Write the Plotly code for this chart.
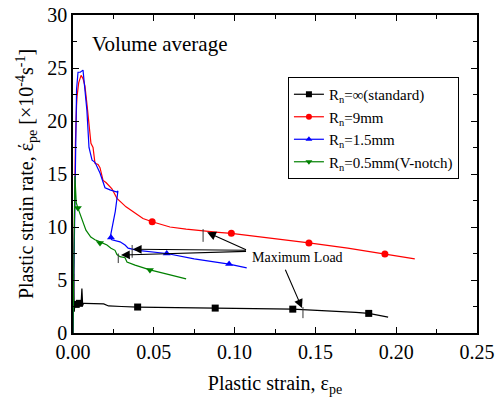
import plotly.graph_objects as go

# ---- data ----
std_x = [0, 0.0004, 0.0008, 0.0012, 0.0018, 0.0025, 0.003, 0.004, 0.005, 0.0055, 0.006, 0.0065, 0.007, 0.01, 0.019, 0.022, 0.025, 0.03, 0.04, 0.06, 0.088, 0.11, 0.136, 0.142, 0.16, 0.175, 0.183, 0.19, 0.195]
std_y = [0, 5.6, 2.0, 2.9, 2.5, 2.85, 2.6, 2.8, 2.7, 4.2, 2.6, 2.8, 2.8, 2.8, 2.75, 2.55, 2.55, 2.5, 2.45, 2.42, 2.35, 2.3, 2.25, 2.2, 2.1, 1.95, 1.85, 1.65, 1.5]
std_mx = [0.002, 0.004, 0.04, 0.088, 0.136, 0.183]
std_my = [2.7, 2.8, 2.45, 2.35, 2.25, 1.85]

r9_x = [0, 0.0008, 0.0015, 0.0022, 0.0025, 0.0035, 0.005, 0.0062, 0.0074, 0.0087, 0.0099, 0.0111, 0.0124, 0.0136, 0.0155, 0.0167, 0.0186, 0.0204, 0.0241, 0.0266, 0.0272, 0.0328, 0.0433, 0.049, 0.06, 0.07, 0.081, 0.09, 0.098, 0.12, 0.146, 0.17, 0.193, 0.2115]
r9_y = [0, 10, 18, 21.5, 22.3, 23.6, 24.3, 24.0, 23.3, 21.5, 19.4, 17.9, 17.5, 16.0, 15.9, 15.6, 14.4, 14.2, 13.6, 12.9, 12.7, 11.9, 10.8, 10.5, 10.0, 9.8, 9.6, 9.5, 9.4, 9.0, 8.5, 8.0, 7.45, 7.0]
r9_mx = [0.049, 0.098, 0.146, 0.193]
r9_my = [10.5, 9.4, 8.5, 7.45]

r15_x = [0, 0.0008, 0.0015, 0.0022, 0.0031, 0.0045, 0.0062, 0.0074, 0.0086, 0.0099, 0.0118, 0.0136, 0.0167, 0.0198, 0.0229, 0.0272, 0.0278, 0.0262, 0.0248, 0.0236, 0.0230, 0.0240, 0.0291, 0.0322, 0.0341, 0.040, 0.045, 0.058, 0.075, 0.0966, 0.1075]
r15_y = [0, 8, 18, 23.0, 24.6, 24.6, 24.8, 23.2, 21.0, 17.5, 16.3, 16.1, 15.1, 13.7, 13.5, 13.3, 13.4, 11.5, 10.3, 9.5, 9.0, 8.8, 8.6, 8.3, 8.0, 7.8, 7.7, 7.5, 7.0, 6.5, 6.15]
r15_mx = [0.0235, 0.058, 0.0966]
r15_my = [9.0, 7.5, 6.5]

r05_x = [0, 0.0004, 0.0008, 0.0012, 0.0016, 0.002, 0.003, 0.005, 0.008, 0.011, 0.0136, 0.0167, 0.0186, 0.0210, 0.0235, 0.0260, 0.0272, 0.0291, 0.0322, 0.0334, 0.0384, 0.0476, 0.057, 0.07]
r05_y = [0, 5, 11, 14.8, 13.5, 12.3, 11.8, 10.9, 9.7, 9.05, 8.8, 8.6, 8.5, 8.3, 8.0, 7.8, 7.4, 7.2, 7.1, 6.7, 6.4, 5.95, 5.6, 5.1]
r05_mx = [0.003, 0.0167, 0.0476]
r05_my = [11.8, 8.5, 5.95]

series_names = ["R<sub>n</sub>=\u221e(standard)", "R<sub>n</sub>=9mm", "R<sub>n</sub>=1.5mm", "R<sub>n</sub>=0.5mm(V-notch)"]
series_colors = ["#000000", "#ff0000", "#0000ff", "#008000"]
series_symbols = ["square", "circle", "triangle-up", "triangle-down"]

# maximum-load markers (vertical ticks) and arrows
maxload_tick_x = [0.0805, 0.0366, 0.0280, 0.1423]
maxload_tick_y0 = [8.6, 7.1, 6.6, 1.4]
maxload_tick_y1 = [9.8, 8.3, 7.5, 2.45]
arrow_head_x = [0.0830, 0.0370, 0.0297, 0.1417]
arrow_head_y = [9.5, 7.9, 7.35, 2.36]
arrow_tail_x = [0.1080, 0.1080, 0.1080, 0.1310]
arrow_tail_y = [7.8, 7.8, 7.7, 6.1]
label_x = [0.139]
label_y = [7.08]

x_ticks = [0.00, 0.05, 0.10, 0.15, 0.20, 0.25]
y_ticks = [0, 5, 10, 15, 20, 25, 30]

FONT = "Liberation Serif, Times New Roman, Tinos, serif"

fig = go.Figure()
curves = [(std_x, std_y, std_mx, std_my), (r9_x, r9_y, r9_mx, r9_my),
          (r15_x, r15_y, r15_mx, r15_my), (r05_x, r05_y, r05_mx, r05_my)]
for (cx, cy, mx, my), name, col, sym in zip(curves, series_names, series_colors, series_symbols):
    fig.add_trace(go.Scatter(x=cx, y=cy, mode="lines", line=dict(color=col, width=1.2),
                             showlegend=False, hoverinfo="skip"))
    fig.add_trace(go.Scatter(x=mx, y=my, mode="markers", showlegend=False,
                             marker=dict(color=col, symbol=sym, size=7, line=dict(width=0))))
    fig.add_trace(go.Scatter(x=[None], y=[None], mode="lines+markers", name=name,
                             line=dict(color=col, width=1.2),
                             marker=dict(color=col, symbol=sym, size=6)))

shapes = []
for tx, y0, y1 in zip(maxload_tick_x, maxload_tick_y0, maxload_tick_y1):
    shapes.append(dict(type="line", xref="x", yref="y", x0=tx, x1=tx, y0=y0, y1=y1,
                       line=dict(color="#333333", width=1)))

annotations = []
for hx, hy, tx, ty in zip(arrow_head_x, arrow_head_y, arrow_tail_x, arrow_tail_y):
    annotations.append(dict(x=hx, y=hy, ax=tx, ay=ty, xref="x", yref="y", axref="x", ayref="y",
                            text="", showarrow=True, arrowhead=2, arrowsize=1.6,
                            arrowwidth=1.1, arrowcolor="#000000"))
annotations.append(dict(x=label_x[0], y=label_y[0], xref="x", yref="y", text="Maximum Load",
                        showarrow=False, font=dict(family=FONT, size=14, color="#000000")))
annotations.append(dict(x=0.042, y=0.91, xref="paper", yref="paper", xanchor="left", yanchor="middle",
                        text="Volume average", showarrow=False,
                        font=dict(family=FONT, size=21, color="#000000")))

axis_common = dict(showline=True, linecolor="#000000", linewidth=1.5, mirror="ticks",
                   ticks="inside", ticklen=6, tickwidth=1.2, tickcolor="#000000",
                   showgrid=False, zeroline=False, automargin=False,
                   tickfont=dict(family=FONT, size=20, color="#000000"))

fig.update_layout(
    width=495, height=403,
    font=dict(family=FONT, color="#000000"),
    margin=dict(l=73, r=18, t=15, b=70),
    plot_bgcolor="white", paper_bgcolor="white",
    xaxis=dict(range=[0, 0.25], tickvals=x_ticks, ticktext=[f"{v:.2f}" for v in x_ticks],
               title=dict(text="Plastic strain, \u03b5<sub>pe</sub>", standoff=14,
                          font=dict(family=FONT, size=20, color="#000000")),
               minor=dict(dtick=0.025, ticks="inside", ticklen=4, tickwidth=1.2, tickcolor="#000000"),
               **axis_common),
    yaxis=dict(range=[0, 30], tickvals=y_ticks,
               title=dict(text="Plastic strain rate, \u03ad<sub>pe</sub> [\u00d710<sup>-4</sup>s<sup>-1</sup>]",
                          standoff=8, font=dict(family=FONT, size=20, color="#000000")),
               minor=dict(dtick=2.5, ticks="inside", ticklen=4, tickwidth=1.2, tickcolor="#000000"),
               **axis_common),
    legend=dict(x=0.532, y=0.805, xanchor="left", yanchor="top",
                bordercolor="#000000", borderwidth=1, bgcolor="white",
                font=dict(family=FONT, size=15, color="#000000"),
                itemwidth=30, tracegroupgap=0),
    shapes=shapes, annotations=annotations,
    showlegend=True,
)

fig.write_html("out.html", config={"displayModeBar": False},
               post_script="document.body.style.margin='0';document.body.style.padding='0';")
